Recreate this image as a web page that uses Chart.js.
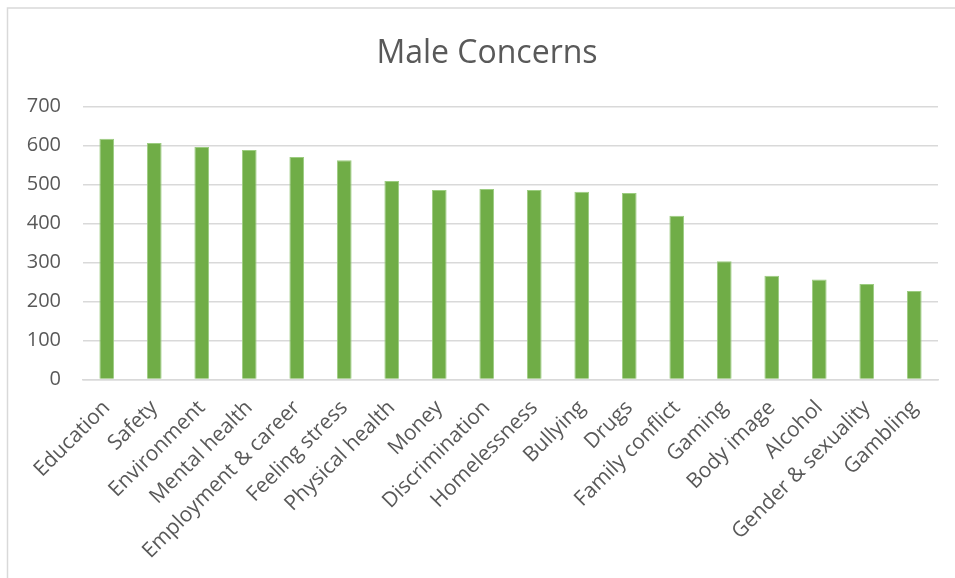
<!DOCTYPE html>
<html>
<head>
<meta charset="utf-8">
<script src="https://cdn.jsdelivr.net/npm/chart.js@4/dist/chart.umd.min.js"></script>
<style>
  html, body { margin: 0; padding: 0; background: #ffffff; }
  #wrap { position: relative; width: 955px; height: 578px; }
  canvas { display: block; }
</style>
</head>
<body>
<div id="wrap"><canvas id="c" width="955" height="578"></canvas></div>
<script>
const titleText = "Male Concerns";
const categories = ["Education", "Safety", "Environment", "Mental health", "Employment & career", "Feeling stress", "Physical health", "Money", "Discrimination", "Homelessness", "Bullying", "Drugs", "Family conflict", "Gaming", "Body image", "Alcohol", "Gender & sexuality", "Gambling"];
const values = [617, 606, 596, 588, 570, 562, 509, 486, 488, 486, 481, 478, 420, 303, 266, 256, 245, 227];
const yTicks = [0, 100, 200, 300, 400, 500, 600, 700];

const textColor = "#595959";
const gridColor = "#d9d9d9";
const font = "'Open Sans', 'Liberation Sans', sans-serif";

const frame = {
  id: "frame",
  afterLayout(chart) {
    if (chart.titleBlock) { chart.titleBlock.left = 36; }
  },
  beforeDraw(chart) {
    const ctx = chart.ctx;
    ctx.save();
    ctx.fillStyle = "#ffffff";
    ctx.fillRect(0, 0, chart.width, chart.height);
    ctx.strokeStyle = gridColor;
    ctx.lineWidth = 1.5;
    ctx.beginPath();
    ctx.moveTo(7.5, chart.height);
    ctx.lineTo(7.5, 8);
    ctx.lineTo(chart.width, 8);
    ctx.stroke();
    ctx.restore();
  }
};

new Chart(document.getElementById("c"), {
  type: "bar",
  data: {
    labels: categories,
    datasets: [{
      data: values,
      backgroundColor: "#70AD47",
      borderColor: "#9ccc80",
      borderWidth: 1,
      barPercentage: 0.31,
      categoryPercentage: 1.0
    }]
  },
  options: {
    responsive: false,
    animation: false,
    devicePixelRatio: 1,
    layout: { padding: { left: 0, right: 17, top: 0, bottom: 0 } },
    plugins: {
      legend: { display: false },
      tooltip: { enabled: false },
      title: {
        display: true,
        text: titleText,
        color: textColor,
        font: { family: font, size: 32, weight: "normal" },
        padding: { top: 35, bottom: 33 }
      }
    },
    scales: {
      x: {
        grid: { display: false, drawTicks: false },
        border: { display: true, color: gridColor, width: 1.5 },
        ticks: {
          color: textColor,
          font: { family: font, size: 21 },
          minRotation: 45,
          maxRotation: 45,
          autoSkip: false,
          padding: 16
        },
        afterFit(scale) { scale.height = 198.5; }
      },
      y: {
        min: 0,
        max: 700,
        afterBuildTicks(scale) { scale.ticks = yTicks.map(v => ({ value: v })); },
        grid: { color: gridColor, lineWidth: 1.5, drawTicks: false },
        border: { display: false },
        ticks: {
          color: textColor,
          font: { family: font, size: 20 },
          padding: 22
        },
        afterFit(scale) { scale.width = 83; }
      }
    }
  },
  plugins: [frame]
});
</script>
</body>
</html>
